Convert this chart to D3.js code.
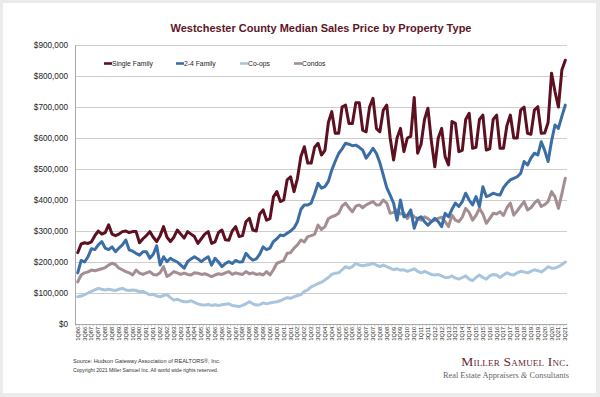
<!DOCTYPE html>
<html><head><meta charset="utf-8">
<script src="https://cdn.jsdelivr.net/npm/d3@7"></script>
<style>
html,body{margin:0;padding:0;background:#ebebeb;}
svg{display:block;font-family:"Liberation Sans",Arial,sans-serif;}
</style></head><body>
<svg id="chart" width="600" height="397"></svg>
<script>
// ---- DATA (median sales price, in $ thousands, quarterly 1Q86 - 3Q21) ----
const years = d3.range(1986, 2022);
const quarterNames = ["1Q","2Q","3Q","4Q"];
const categories = [];
years.forEach(y => quarterNames.forEach(q => {
  if (!(y === 2021 && q === "4Q")) categories.push(q + String(y).slice(2));
}));

const singleFamily = [
  230,258,262,260, 265,285,300,290, 295,320,290,285, 290,298,300,295,
  298,298,262,275, 285,298,280,266, 285,314,280,266, 280,303,290,277,
  298,290,282,260, 275,290,298,260, 265,295,303,272, 270,300,314,282,
  285,330,341,303, 300,355,368,335, 340,410,427,395, 400,465,475,427,
  470,540,572,519, 519,570,583,545, 560,650,685,615, 615,700,706,647,
  647,714,714,625, 620,700,728,630, 620,690,706,600, 529,600,631,556,
  600,605,731,551, 580,660,696,590, 507,600,631,540, 513,653,647,556,
  560,660,680,567, 570,660,674,561, 565,660,674,567, 567,640,674,600,
  600,690,700,615, 612,690,701,615, 616,650,809,750, 700,819,851
];
const twoToFourFamily = [
  165,205,200,217, 243,240,255,266, 245,240,249,233, 245,255,271,239,
  235,228,222,233, 233,212,225,252, 190,217,201,212, 205,200,190,180,
  201,210,217,210, 201,210,217,190, 212,200,185,195, 201,195,205,200,
  201,228,215,206, 210,225,249,240, 245,266,275,287, 285,293,300,310,
  330,370,384,384, 390,420,454,438, 443,460,497,525, 550,565,583,580,
  575,577,570,561, 535,550,567,550, 520,480,440,416, 390,335,400,346,
  350,368,309,340, 346,330,319,330, 341,330,314,357, 346,370,390,379,
  395,422,400,384, 411,379,443,411, 415,422,418,416, 440,454,465,470,
  475,486,524,513, 535,551,545,588, 560,524,590,642, 631,670,706
];
const coops = [
  88,90,95,100, 105,110,115,112, 110,112,110,108, 112,115,110,108,
  110,108,104,105, 100,94,96,90, 88,92,95,85, 77,80,75,72,
  72,75,70,65, 62,61,63,60, 62,60,62,64, 65,60,58,56,
  60,65,72,65, 61,62,68,65, 68,70,72,75, 80,85,83,88,
  92,95,105,110, 120,125,130,135, 142,150,160,164, 165,175,185,180,
  185,196,190,188, 190,192,196,190, 185,190,185,180, 175,178,174,175,
  170,174,178,170, 165,170,165,160, 158,160,155,150, 150,155,148,145,
  150,155,145,140, 150,158,150,145, 155,160,158,150, 158,165,160,158,
  165,170,168,165, 170,175,172,168, 175,185,180,180, 185,192,200
];
const condos = [
  136,158,165,168, 174,172,175,178, 182,190,196,192, 180,175,169,165,
  158,174,164,160, 165,169,160,158, 165,185,153,160, 169,165,160,164,
  160,158,165,164, 160,162,158,153, 158,162,160,165, 169,160,165,162,
  160,169,162,165, 160,162,158,169, 158,175,196,200, 205,228,230,245,
  255,271,265,282, 285,290,319,305, 314,340,346,350, 357,380,390,375,
  362,380,384,375, 384,390,395,384, 385,400,390,357, 360,368,355,357,
  340,355,346,340, 335,346,340,330, 335,341,345,330, 314,351,335,330,
  345,373,360,335, 350,373,355,325, 340,357,355,362, 350,375,390,351,
  365,380,395,368, 375,390,400,379, 385,395,427,410, 373,420,470
];
const seriesNames = ["Single Family","2-4 Family","Co-ops","Condos"];
const seriesColors = ["#5c1020","#3b6ea6","#a9c5de","#a48e92"];
const yTicks = [0,100000,200000,300000,400000,500000,600000,700000,800000,900000];

// ---- LAYOUT ----
const svg = d3.select("#chart");
const L = 75, R = 567, T = 45, B = 324;

svg.append("rect").attr("x",0).attr("y",0).attr("width",600).attr("height",397).attr("fill","#ebebeb");
svg.append("rect").attr("x",3).attr("y",3).attr("width",593).attr("height",390).attr("fill","#ffffff");

const x = d3.scaleBand().domain(categories).range([L + 1, R]);
const xc = d => x(d) + x.bandwidth() / 2;
const y = d3.scaleLinear().domain([0, 900000]).range([B, T]);

// gridlines
svg.append("g").attr("transform", `translate(${L},0)`)
  .call(d3.axisLeft(y).tickValues(yTicks.slice(1)).tickSize(-(R - L)).tickFormat(""))
  .call(g => g.select(".domain").remove())
  .call(g => g.selectAll("line").attr("stroke","#cdcdcd").attr("stroke-width",1));

// y axis labels
svg.append("g").attr("transform", `translate(${L},0)`)
  .call(d3.axisLeft(y).tickValues(yTicks).tickSize(0).tickPadding(7).tickFormat(d3.format("$,")))
  .call(g => g.select(".domain").remove())
  .call(g => g.selectAll("text").attr("font-size","8.2px").attr("fill","#222")
    .attr("font-family","'Liberation Sans',Arial,sans-serif"));

// axis lines
svg.append("line").attr("x1",L+0.5).attr("x2",L+0.5).attr("y1",T).attr("y2",B).attr("stroke","#a8a8a8");
svg.append("line").attr("x1",L).attr("x2",R).attr("y1",B+0.5).attr("y2",B+0.5).attr("stroke","#a8a8a8");

// x tick marks at category boundaries
svg.append("g").selectAll("line").data(categories).join("line")
  .attr("x1", d => x(d)).attr("x2", d => x(d))
  .attr("y1", B).attr("y2", B + 2.5).attr("stroke","#a8a8a8").attr("stroke-width",0.6);

// x labels (every other quarter)
svg.append("g").attr("transform", `translate(0,${B})`)
  .call(d3.axisBottom(x).tickSize(0).tickPadding(0)
    .tickValues(categories.filter((d,i) => i % 2 === 0)))
  .call(g => g.select(".domain").remove())
  .call(g => g.selectAll("text")
    .attr("font-size","5.6px").attr("fill","#222")
    .attr("font-family","'Liberation Sans',Arial,sans-serif")
    .attr("transform","rotate(-90)").attr("text-anchor","end")
    .attr("x",-3).attr("y",0).attr("dy","0.35em"));

// lines
const allSeries = [singleFamily, twoToFourFamily, coops, condos];
const line = d3.line().x((d,i) => xc(categories[i])).y(d => y(d * 1000));
const drawOrder = [2,3,1,0];
drawOrder.forEach(k => {
  svg.append("path").datum(allSeries[k])
    .attr("d", line).attr("fill","none")
    .attr("stroke", seriesColors[k]).attr("stroke-width",3)
    .attr("stroke-linejoin","round").attr("stroke-linecap","round");
});

// title
svg.append("text").attr("x",(L+R)/2).attr("y",31.5).attr("text-anchor","middle")
  .attr("font-size","11px").attr("font-weight","bold").attr("fill","#5c1626")
  .text("Westchester County Median Sales Price by Property Type");

// legend
const legX = [104, 176, 240, 294];
seriesNames.forEach((n,k) => {
  svg.append("line").attr("x1",legX[k]).attr("x2",legX[k]+8).attr("y1",63.5).attr("y2",63.5)
    .attr("stroke",seriesColors[k]).attr("stroke-width",2.6);
  svg.append("text").attr("x",legX[k]+8).attr("y",66).attr("font-size","6.8px").attr("fill","#222").text(n);
});

// footnotes
svg.append("text").attr("x",73).attr("y",362.5).attr("font-size","5.6px").attr("fill","#333")
  .text("Source: Hudson Gateway Association of REALTORS®, Inc.");
svg.append("text").attr("x",73).attr("y",371.5).attr("font-size","5.1px").attr("fill","#333")
  .text("Copyright 2021 Miller Samuel Inc.  All world wide rights reserved.");

// logo
svg.append("text").attr("x",569).attr("y",366).attr("text-anchor","end")
  .attr("font-family","'Liberation Serif','Times New Roman',serif").attr("font-size","13.5px")
  .attr("font-variant","small-caps").attr("fill","#6a1f30").attr("letter-spacing","0.2px")
  .text("Miller Samuel Inc.");
const sub = svg.append("text").attr("x",569).attr("y",377.5).attr("text-anchor","end")
  .attr("font-family","'Liberation Serif','Times New Roman',serif").attr("font-size","8.4px").attr("fill","#666");
sub.append("tspan").text("Real Estate Appraisers ");
sub.append("tspan").attr("font-style","italic").text("&");
sub.append("tspan").text(" Consultants");
</script></body></html>
